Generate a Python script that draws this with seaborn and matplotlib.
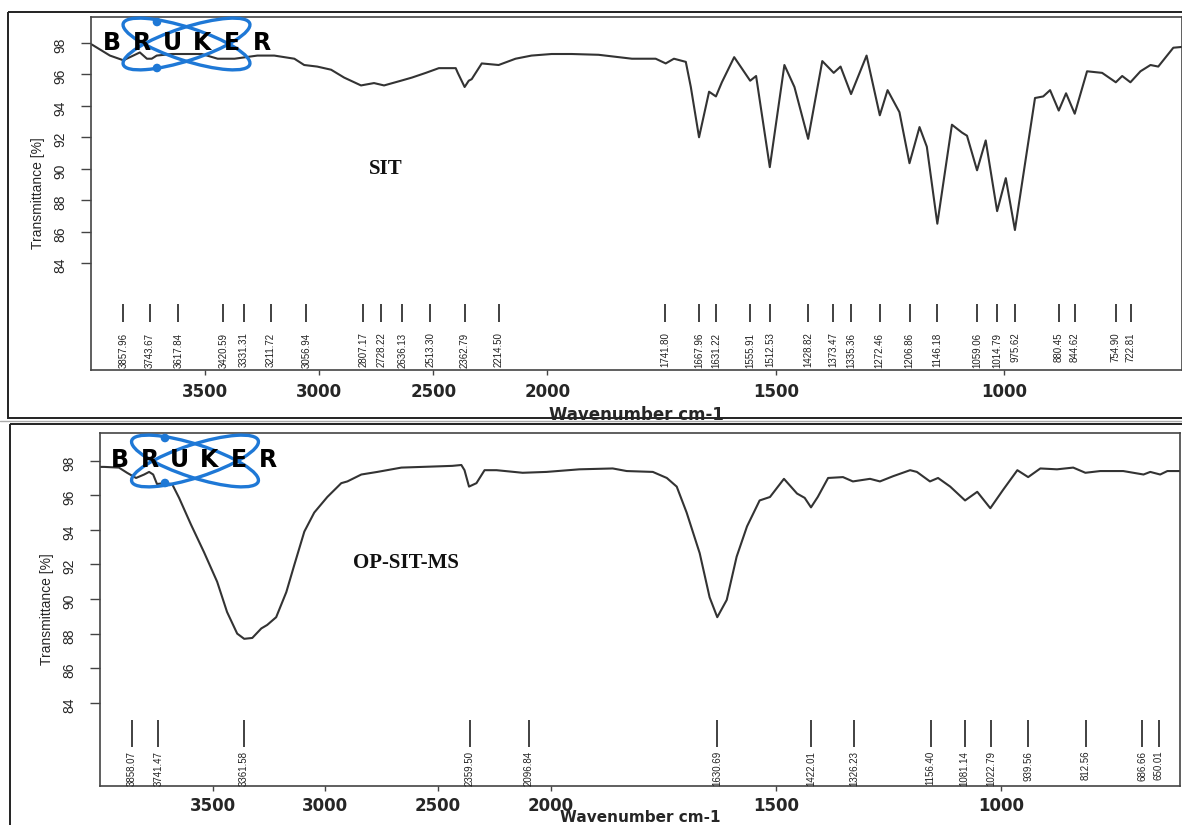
import numpy as np
import pandas as pd
import matplotlib
matplotlib.use("Agg")
import matplotlib.pyplot as plt
from matplotlib.patches import Ellipse, Circle, Rectangle
import seaborn as sns

# ---------------------------------------------------------------- data
sit_wavenumber = [
    3996, 3917, 3858, 3786, 3755, 3734, 3712, 3646, 3576, 3515,
    3445, 3371, 3271, 3197, 3109, 3066, 3009, 2948, 2891, 2817,
    2760, 2716, 2642, 2594, 2533, 2476, 2402, 2393, 2363, 2345,
    2332, 2288, 2214, 2140, 2070, 1991, 1947, 1888, 1815, 1763,
    1741, 1723, 1697, 1686, 1668, 1646, 1631, 1618, 1591, 1556,
    1543, 1513, 1481, 1459, 1429, 1398, 1373, 1358, 1335, 1301,
    1272, 1255, 1229, 1207, 1185, 1169, 1146, 1114, 1092, 1081,
    1059, 1040, 1015, 996, 976, 932, 914, 899, 880, 864,
    845, 818, 785, 755, 741, 723, 701, 679, 662, 629,
    610,
]
sit_transmittance = [
    97.9, 97.2, 96.9, 97.4, 97.0, 97.0, 97.2, 97.3, 97.3, 97.3,
    97.0, 97.0, 97.2, 97.2, 97.0, 96.6, 96.5, 96.3, 95.8, 95.3,
    95.45, 95.3, 95.6, 95.8, 96.1, 96.4, 96.4, 96.1, 95.2, 95.6,
    95.7, 96.7, 96.6, 97.0, 97.2, 97.3, 97.3, 97.25, 97.0, 97.0,
    96.7, 97.0, 96.8, 95.2, 92.0, 94.9, 94.6, 95.5, 97.1, 95.6,
    95.9, 90.1, 96.6, 95.2, 91.9, 96.85, 96.1, 96.5, 94.75, 97.2,
    93.4, 95.0, 93.6, 90.35, 92.65, 91.4, 86.5, 92.8, 92.3, 92.1,
    89.9, 91.8, 87.3, 89.4, 86.1, 94.5, 94.6, 95.0, 93.7, 94.8,
    93.5, 96.2, 96.1, 95.5, 95.9, 95.5, 96.2, 96.6, 96.5, 97.7,
    97.75,
]
sit_peaks = [
    3857.96, 3743.67, 3617.84, 3420.59, 3331.31, 3211.72, 3056.94, 2807.17,
    2728.22, 2636.13, 2513.30, 2362.79, 2214.50, 1741.80, 1667.96, 1631.22,
    1555.91, 1512.53, 1428.82, 1373.47, 1335.36, 1272.46, 1206.86, 1146.18,
    1059.06, 1014.79, 975.62, 880.45, 844.62, 754.90, 722.81,
]

op_wavenumber = [
    4000, 3982, 3916, 3880, 3840, 3804, 3782, 3764, 3747, 3716,
    3680, 3649, 3596, 3538, 3480, 3436, 3391, 3360, 3324, 3284,
    3258, 3218, 3173, 3138, 3093, 3049, 2991, 2929, 2902, 2840,
    2769, 2662, 2547, 2436, 2396, 2382, 2362, 2329, 2293, 2240,
    2124, 2018, 1936, 1862, 1831, 1773, 1742, 1720, 1698, 1669,
    1647, 1630, 1609, 1587, 1564, 1536, 1513, 1482, 1453, 1436,
    1422, 1407, 1384, 1351, 1329, 1291, 1269, 1240, 1202, 1187,
    1158, 1140, 1113, 1080, 1053, 1024, 996, 964, 940, 913,
    876, 840, 813, 780, 729, 684, 669, 647, 631, 603,
]
op_transmittance = [
    97.64, 97.64, 97.6, 97.3, 97.0, 97.2, 97.35, 97.2, 96.65, 96.7,
    96.65, 95.85, 94.3, 92.7, 91.0, 89.25, 88.0, 87.7, 87.75, 88.3,
    88.5, 88.95, 90.4, 91.95, 93.9, 95.0, 95.9, 96.7, 96.8, 97.2,
    97.35, 97.6, 97.65, 97.7, 97.75, 97.45, 96.5, 96.7, 97.45, 97.45,
    97.3, 97.35, 97.5, 97.55, 97.4, 97.35, 97.0, 96.5, 95.0, 92.65,
    90.1, 88.95, 89.95, 92.45, 94.2, 95.7, 95.9, 96.95, 96.1, 95.85,
    95.3, 95.9, 97.0, 97.05, 96.8, 96.95, 96.8, 97.1, 97.45, 97.35,
    96.8, 97.0, 96.5, 95.7, 96.2, 95.25, 96.3, 97.45, 97.05, 97.55,
    97.5, 97.6, 97.3, 97.4, 97.4, 97.2, 97.35, 97.2, 97.4, 97.4,
]
op_peaks = [
    3858.07, 3741.47, 3361.58, 2359.50, 2096.84, 1630.69, 1422.01, 1326.23,
    1156.40, 1081.14, 1022.79, 939.56, 812.56, 686.66, 650.01,
]

y_ticks = [84, 86, 88, 90, 92, 94, 96, 98]
x_ticks = [3500, 3000, 2500, 2000, 1500, 1000]
sample_names = ["SIT", "OP-SIT-MS"]

# ---------------------------------------------------------------- style
sns.set_theme(style="ticks")
plt.rcParams["font.family"] = ["DejaVu Sans"]
NARROW = ["Liberation Sans Narrow", "Liberation Sans", "DejaVu Sans"]
LINE = "#333333"
SPINE = "#444444"
LOGO_BLUE = "#1e78d6"

W, H = 1182, 825
fig = plt.figure(figsize=(W / 100, H / 100), dpi=100)
fig.patch.set_facecolor("white")


def px_axes(left, top, right, bottom, **kw):
    """Axes placed by pixel box (y measured from the top)."""
    return fig.add_axes([left / W, 1 - bottom / H, (right - left) / W,
                         (bottom - top) / H], **kw)


# split wavenumber scale: region below 2000 cm-1 is drawn at twice the scale
def split_fwd(w):
    w = np.asarray(w, dtype=float)
    return np.where(w >= 2000, w, 2 * w - 2000)


def split_inv(u):
    u = np.asarray(u, dtype=float)
    return np.where(u >= 2000, u, (u + 2000) / 2)


# page frames around the two spectra
bg = fig.add_axes([0, 0, 1, 1], zorder=-5)
bg.set_xlim(0, W)
bg.set_ylim(H, 0)
bg.axis("off")
bg.add_patch(Rectangle((8, 12), 1190, 406, fill=False, ec="#222222", lw=1.4))
bg.add_patch(Rectangle((10, 424), 1190, 410, fill=False, ec="#222222", lw=1.4))
bg.plot([0, W], [420.5, 420.5], color="#aaaaaa", lw=1.0)

panels = [
    dict(name=sample_names[0], wn=sit_wavenumber, t=sit_transmittance,
         peaks=sit_peaks, box=(91, 17, 1182, 370), xlim=(4000, 610),
         ylim=(77.19, 99.655), label_xy=(2707, 90.0),
         line_span=(0.136, 0.187), text_top=0.106,
         xpad=6, xlabelpad=3, xlabelsize=12,
         logo=dict(cx=186.5, cy=44, dot_x=157, dots_y=(22, 68),
                   text_x0=97, text_x1=277, text_y=43)),
    dict(name=sample_names[1], wn=op_wavenumber, t=op_transmittance,
         peaks=op_peaks, box=(100, 433, 1180, 786), xlim=(4000, 603),
         ylim=(79.19, 99.60), label_xy=(2644, 92.1),
         line_span=(0.110, 0.187), text_top=0.100,
         xpad=4, xlabelpad=-3, xlabelsize=11,
         logo=dict(cx=195, cy=461, dot_x=165, dots_y=(438, 483),
                   text_x0=105, text_x1=283, text_y=460)),
]

for p in panels:
    ax = px_axes(*p["box"])
    df = pd.DataFrame({"Wavenumber": p["wn"], "Transmittance": p["t"]})
    sns.lineplot(data=df, x="Wavenumber", y="Transmittance", ax=ax,
                 color=LINE, linewidth=1.5, estimator=None)
    ax.set_xscale("function", functions=(split_fwd, split_inv))
    ax.set_xlim(*p["xlim"])
    ax.set_ylim(*p["ylim"])
    ax.set_xticks(x_ticks)
    ax.set_xticklabels([str(v) for v in x_ticks])
    ax.set_yticks(y_ticks)
    ax.set_yticklabels([str(v) for v in y_ticks], family=NARROW, fontsize=10)
    ax.xaxis.set_minor_locator(matplotlib.ticker.NullLocator())
    ax.tick_params(axis="y", length=7.2, width=1.0, color=SPINE,
                   labelrotation=90, pad=10)
    ax.tick_params(axis="x", length=3.6, width=1.0, color=SPINE,
                   pad=p["xpad"], labelsize=12)
    for lab in ax.get_xticklabels():
        lab.set_fontweight("bold")
    for s in ax.spines.values():
        s.set_visible(True)
        s.set_color(SPINE)
        s.set_linewidth(1.2)
    ax.set_xlabel("Wavenumber cm-1", fontsize=p["xlabelsize"],
                  fontweight="bold", labelpad=p["xlabelpad"])
    ax.set_ylabel("Transmittance [%]", family=NARROW, fontsize=10,
                  labelpad=6)

    # peak markers with their wavenumbers
    xt = ax.get_xaxis_transform()
    ax.vlines(p["peaks"], p["line_span"][0], p["line_span"][1],
              transform=xt, color=LINE, lw=1.3)
    for pk in p["peaks"]:
        ax.text(pk, p["text_top"], f"{pk:.2f}", transform=xt, rotation=90,
                ha="center", va="top", family=NARROW, fontsize=7,
                color="#222222")

    # sample name
    ax.text(*p["label_xy"], p["name"], family="Liberation Serif",
            fontweight="bold", fontsize=15, ha="center", va="center",
            color="#111111")

    # instrument logo
    lg = p["logo"]
    lx0, lx1 = lg["cx"] - 95, lg["cx"] + 100
    ly0, ly1 = lg["cy"] - 32, lg["cy"] + 32
    la = px_axes(lx0, ly0, lx1, ly1, zorder=5)
    la.set_xlim(lx0, lx1)
    la.set_ylim(ly1, ly0)
    la.axis("off")
    la.patch.set_alpha(0)
    for ang in (18, -18):
        la.add_patch(Ellipse((lg["cx"], lg["cy"]), 133, 33, angle=ang,
                             fill=False, ec=LOGO_BLUE, lw=2.4))
    for dy in lg["dots_y"]:
        la.add_patch(Circle((lg["dot_x"], dy), 3.6, color=LOGO_BLUE))
    letters = "BRUKER"
    step = (lg["text_x1"] - lg["text_x0"]) / len(letters)
    for i, ch in enumerate(letters):
        la.text(lg["text_x0"] + step * (i + 0.5), lg["text_y"], ch,
                ha="center", va="center", fontsize=17, fontweight="heavy",
                color="black")

fig.savefig("out.png", dpi=100, facecolor="white")
